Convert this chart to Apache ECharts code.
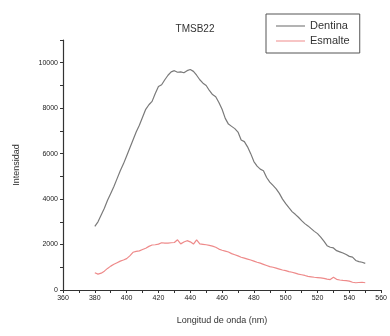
<!DOCTYPE html>
<html>
<head>
<meta charset="utf-8">
<script src="https://cdn.jsdelivr.net/npm/echarts@6/dist/echarts.min.js"></script>
<style>html,body{margin:0;padding:0;background:#fff}#c{width:390px;height:336px}</style>
</head>
<body>
<div id="c"></div>
<script>
const wavelengths = [380,382,384,386,388,390,392,394,396,398,400,402,404,406,408,410,412,414,416,418,420,422,424,426,428,430,432,434,436,438,440,442,444,446,448,450,452,454,456,458,460,462,464,466,468,470,472,474,476,478,480,482,484,486,488,490,492,494,496,498,500,502,504,506,508,510,512,514,516,518,520,522,524,526,528,530,532,534,536,538,540,542,544,546,548,550];
const dentina = [2800,3000,3300,3600,3950,4250,4550,4900,5250,5550,5900,6250,6600,6950,7250,7600,7950,8150,8300,8650,8950,9030,9250,9450,9600,9650,9580,9600,9560,9650,9700,9620,9450,9250,9100,9000,8780,8600,8500,8250,7950,7550,7300,7200,7100,6950,6600,6530,6300,6000,5650,5450,5320,5250,4950,4750,4600,4450,4250,4000,3800,3620,3450,3330,3200,3050,2920,2820,2700,2580,2480,2330,2150,1950,1880,1850,1730,1680,1630,1560,1480,1450,1300,1250,1220,1170];
const esmalte = [760,700,740,830,950,1050,1130,1200,1270,1320,1380,1500,1660,1700,1720,1780,1840,1920,1980,1990,2020,2080,2060,2060,2080,2090,2210,2030,2110,2170,2120,2020,2210,2030,2010,1990,1960,1930,1880,1800,1750,1710,1670,1600,1550,1500,1440,1400,1360,1320,1270,1220,1180,1130,1080,1030,1000,960,920,880,850,810,780,740,700,670,640,600,580,560,545,530,510,480,460,560,470,440,420,410,390,340,320,330,340,320];
const seriesNames = ['Dentina','Esmalte'];
const titleText = 'TMSB22';
const xName = 'Longitud de onda (nm)';
const yName = 'Intensidad';

const chart = echarts.init(document.getElementById('c'), null, {renderer:'canvas'});
const font = 'Liberation Sans, Arial, sans-serif';
chart.setOption({
  animation: false,
  backgroundColor: '#ffffff',
  title: {text: titleText, left: 190, top: 19, textAlign: 'center',
    textStyle: {fontFamily: font, fontSize: 10, fontWeight: 'normal', color: '#333'}},
  legend: {
    orient: 'vertical', left: 266, top: 14,
    padding: [6, 10, 6, 10], itemGap: 3, itemWidth: 29, itemHeight: 1,
    icon: 'rect',
    borderColor: '#555', borderWidth: 1,
    textStyle: {fontFamily: font, fontSize: 11, color: '#333', lineHeight: 12},
    data: seriesNames
  },
  grid: {left: 63, right: 5, top: 40, bottom: 46},
  xAxis: {
    type: 'value', min: 360, max: 560, interval: 10,
    name: xName, nameLocation: 'middle', nameGap: 26,
    nameTextStyle: {fontFamily: font, fontSize: 9, color: '#333'},
    axisLine: {show: true, onZero: false, lineStyle: {color: '#333', width: 1.2}},
    axisTick: {show: true, length: 3, inside: false, lineStyle: {color: '#333'}},
    axisLabel: {fontFamily: font, fontSize: 7, color: '#222', margin: 5,
      formatter: v => (v % 20 === 0 ? String(v) : '')},
    splitLine: {show: false}
  },
  yAxis: {
    type: 'value', min: 0, max: 11000, interval: 1000,
    name: yName, nameLocation: 'middle', nameGap: 42, nameRotate: 90,
    nameTextStyle: {fontFamily: font, fontSize: 9, color: '#333'},
    axisLine: {show: true, lineStyle: {color: '#333', width: 1.2}},
    axisTick: {show: true, length: 3, lineStyle: {color: '#333'}},
    axisLabel: {fontFamily: font, fontSize: 7, color: '#222', margin: 5,
      formatter: v => (v % 2000 === 0 ? String(v) : '')},
    splitLine: {show: false}
  },
  series: [
    {name: seriesNames[0], type: 'line', symbol: 'none', smooth: false,
      lineStyle: {color: '#7a7a7a', width: 1.2}, itemStyle: {color: '#666'},
      data: wavelengths.map((w, i) => [w, dentina[i]])},
    {name: seriesNames[1], type: 'line', symbol: 'none', smooth: false,
      lineStyle: {color: '#ee8a8a', width: 1.2}, itemStyle: {color: '#ee8a8a'},
      data: wavelengths.map((w, i) => [w, esmalte[i]])}
  ]
});
</script>
</body>
</html>
